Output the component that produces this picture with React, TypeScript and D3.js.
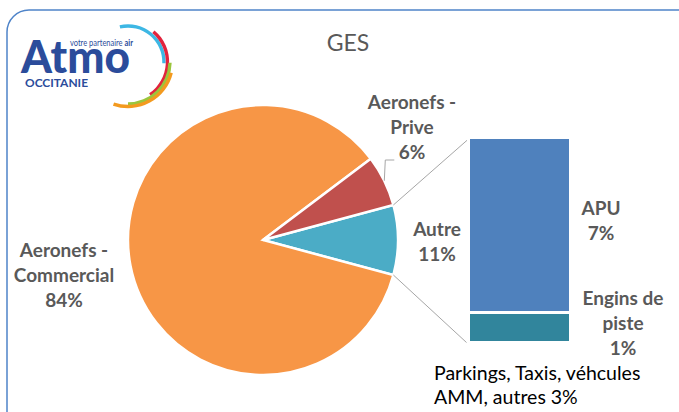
import React from "react";
import * as d3 from "d3";

// pie : main categories (the "Autre" slice is the sum of the bar values)
const pieCategories = ["Aeronefs - Commercial", "Aeronefs - Prive"];
const pieValues = [84, 6];
const pieColors = ["#F79646", "#C0504D"];
const autreColor = "#4BACC6";
const pieLabelLines = [
  ["Aeronefs -", "Commercial", "84%"],
  ["Aeronefs -", "Prive", "6%"],
];
const autreLabelLines = ["Autre", "11%"];

// secondary bar (pie of pie)
const barCategories = ["APU", "Engins de piste"];
const barValues = [7, 1.2];
const barColors = ["#4F81BD", "#31859C"];
const barLabelLines = [
  ["APU", "7%"],
  ["Engins de", "piste", "1%"],
];
const noteLines = ["Parkings, Taxis, véhcules", "AMM, autres 3%"];

const W = 679;
const H = 412;

function Logo() {
  const cx = 128;
  const cy = 62;
  const rings = [
    { r: 36, a0: -13, a1: 92, c: "#3DB7E4" },
    { r: 39.5, a0: 40, a1: 146, c: "#E2233D" },
    { r: 42, a0: 91, a1: 180, c: "#9BC53D" },
    { r: 44.5, a0: 104, a1: 199, c: "#F39A1F" },
  ];
  const arcGen = d3.arc();
  return (
    <g>
      {rings.map((g, i) => (
        <path
          key={i}
          transform={`translate(${cx},${cy})`}
          d={
            arcGen({
              innerRadius: g.r - 1.7,
              outerRadius: g.r + 1.7,
              startAngle: (g.a0 * Math.PI) / 180,
              endAngle: (g.a1 * Math.PI) / 180,
              cornerRadius: 1.5,
            } as any) as string
          }
          fill={g.c}
        />
      ))}
      <text
        x={21}
        y={73}
        fontFamily="Lato, sans-serif"
        fontWeight={900}
        fontSize={46}
        fill="#2B4C9B"
        textLength={109}
        lengthAdjust="spacingAndGlyphs"
      >
        Atmo
      </text>
      <text
        x={70}
        y={46}
        fontFamily="Lato, sans-serif"
        fontSize={8.5}
        fill="#2B4C9B"
        textLength={63}
        lengthAdjust="spacingAndGlyphs"
      >
        votre partenaire <tspan fontWeight={700}>air</tspan>
      </text>
      <text
        x={25}
        y={87}
        fontFamily="Lato, sans-serif"
        fontWeight={700}
        fontSize={12}
        fill="#2B4C9B"
        textLength={63}
        lengthAdjust="spacingAndGlyphs"
      >
        OCCITANIE
      </text>
    </g>
  );
}

function Label({ x, y, lines, dy = 25, bold = true, fill = "#595959", size = 19, anchor = "middle" }: any) {
  return (
    <text
      x={x}
      y={y}
      fontFamily="Lato, sans-serif"
      fontWeight={bold ? 700 : 400}
      fontSize={size}
      fill={fill}
      textAnchor={anchor}
    >
      {lines.map((l: string, i: number) => (
        <tspan key={i} x={x} dy={i === 0 ? 0 : dy}>
          {l}
        </tspan>
      ))}
    </text>
  );
}

export default function App() {
  const cx = 263;
  const cy = 240;
  const r = 135;

  const autreValue = d3.sum(barValues);
  const total = d3.sum(pieValues) + autreValue;
  const start = Math.PI / 2 - (autreValue / total) * Math.PI;

  const slices = [
    { name: "Autre", value: autreValue, color: autreColor },
    { name: pieCategories[0], value: pieValues[0], color: pieColors[0] },
    { name: pieCategories[1], value: pieValues[1], color: pieColors[1] },
  ];
  const arcs = d3
    .pie<any>()
    .sort(null)
    .value((d) => d.value)
    .startAngle(start)
    .endAngle(start + 2 * Math.PI)(slices);
  const arcGen = d3.arc<any>().innerRadius(0).outerRadius(r);

  const onCircle = (a: number, rr = r) => [cx + rr * Math.sin(a), cy - rr * Math.cos(a)];

  // bar of the secondary plot
  const barX = d3.scaleBand().domain(["bar"]).range([468.5, 570.5]);
  const barY = d3.scaleLinear().domain([0, autreValue]).range([342.5, 137.5]);
  const stacked = barCategories.map((c, i) => {
    const below = d3.sum(barValues.slice(i + 1));
    return { c, v0: below, v1: below + barValues[i], color: barColors[i] };
  });

  const autreArc = arcs[0];
  const p1 = onCircle(autreArc.startAngle);
  const p2 = onCircle(autreArc.endAngle);
  const priveArc = arcs[2];
  const pm = onCircle((priveArc.startAngle + priveArc.endAngle) / 2);

  return (
    <svg width={W} height={H} style={{ position: "absolute", left: 0, top: 0 }}>
      <rect x={0} y={0} width={W} height={H} fill="#fff" />
      <rect x={7} y={10} width={700} height={430} rx={22} fill="none" stroke="#4F84C9" strokeWidth={1.5} />
      <Logo />
      <text x={348} y={51} textAnchor="middle" fontFamily="Lato, sans-serif" fontSize={23} fill="#595959">
        GES
      </text>

      <g transform={`translate(${cx},${cy})`}>
        {arcs.map((a, i) => (
          <path key={i} d={arcGen(a) as string} fill={a.data.color} stroke="#fff" strokeWidth={2.5} />
        ))}
      </g>

      {/* connector lines */}
      <line x1={p1[0]} y1={p1[1]} x2={barX("bar")} y2={barY(autreValue) + 1.5} stroke="#A6A6A6" strokeWidth={1} />
      <line x1={p2[0]} y1={p2[1]} x2={(barX("bar") as number) - 2} y2={barY(0)} stroke="#A6A6A6" strokeWidth={1} />
      <polyline
        points={`${pm[0]},${pm[1]} ${pm[0] + 1},160 ${pm[0] + 10},160`}
        fill="none"
        stroke="#A6A6A6"
        strokeWidth={1}
      />

      {stacked.map((s, i) => (
        <rect
          key={i}
          x={barX("bar")}
          width={barX.bandwidth()}
          y={barY(s.v1)}
          height={barY(s.v0) - barY(s.v1)}
          fill={s.color}
          stroke="#fff"
          strokeWidth={3}
        />
      ))}

      <Label x={64} y={257} lines={pieLabelLines[0]} />
      <Label x={412} y={109} lines={pieLabelLines[1]} />
      <Label x={437} y={236} lines={autreLabelLines} />
      <Label x={601} y={215} lines={barLabelLines[0]} />
      <Label x={623} y={305} lines={barLabelLines[1]} />
      <Label x={434} y={380} lines={noteLines} bold={false} fill="#000" size={19.5} anchor="start" dy={24} />
    </svg>
  );
}
